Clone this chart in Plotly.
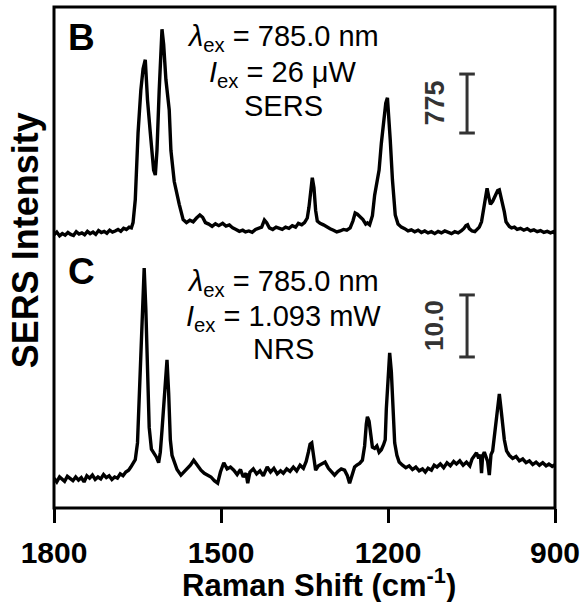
import plotly.graph_objects as go

# ---------------- data ----------------
# Spectrum B (SERS), Raman shift (cm-1) vs intensity (counts)
B_SPECTRUM = [
    (1800, 200), (1795, 235), (1790, 185), (1785, 215), (1780, 195), (1775, 230), (1770, 205),
    (1765, 190), (1760, 240), (1755, 210), (1750, 225), (1745, 200), (1740, 245), (1735, 215),
    (1730, 235), (1725, 205), (1720, 255), (1715, 230), (1710, 245), (1705, 220), (1700, 260),
    (1695, 235), (1690, 250), (1685, 270), (1680, 245), (1675, 285), (1670, 270), (1665, 300),
    (1661, 290), (1658, 360), (1654, 660), (1649, 1540), (1644, 2100), (1640, 2380),
    (1636, 2500), (1632, 1970), (1627, 1540), (1621, 1050), (1618, 985), (1615, 1310),
    (1611, 2100), (1608, 2690), (1606, 2900), (1603, 2700), (1599, 2240), (1593, 1840),
    (1590, 1310), (1584, 900), (1579, 700), (1575, 600), (1568, 400), (1562, 360), (1556, 390),
    (1550, 370), (1544, 420), (1538, 460), (1533, 430), (1528, 360), (1522, 340), (1516, 310),
    (1510, 345), (1504, 320), (1497, 350), (1491, 315), (1485, 330), (1479, 290), (1473, 270),
    (1467, 245), (1461, 260), (1456, 237), (1450, 250), (1444, 232), (1438, 270), (1432, 285),
    (1427, 300), (1422, 394), (1418, 360), (1413, 290), (1407, 270), (1401, 300), (1396, 285),
    (1390, 270), (1384, 300), (1378, 285), (1372, 320), (1366, 300), (1361, 350), (1355, 330),
    (1350, 360), (1345, 420), (1342, 560), (1339, 780), (1336, 950), (1333, 820), (1330, 520),
    (1327, 380), (1322, 350), (1316, 330), (1310, 300), (1304, 280), (1298, 260), (1292, 237),
    (1286, 250), (1280, 270), (1274, 260), (1268, 289), (1263, 380), (1259, 486), (1255, 470),
    (1250, 440), (1245, 400), (1240, 340), (1237, 355), (1233, 330), (1228, 450), (1224, 720),
    (1220, 880), (1216, 1050), (1212, 1400), (1208, 1710), (1204, 1930), (1201, 2000),
    (1198, 1700), (1196, 1450), (1192, 920), (1187, 460), (1182, 340), (1176, 300), (1170, 280),
    (1164, 250), (1158, 265), (1152, 240), (1146, 260), (1140, 230), (1134, 250), (1128, 225),
    (1122, 240), (1116, 215), (1110, 245), (1104, 225), (1098, 250), (1092, 230), (1086, 215),
    (1080, 240), (1074, 225), (1068, 255), (1064, 280), (1060, 320), (1057, 330), (1054, 280),
    (1049, 250), (1044, 240), (1040, 265), (1036, 300), (1032, 370), (1028, 560), (1024, 760),
    (1022, 810), (1019, 700), (1016, 600), (1012, 640), (1007, 720), (1003, 780), (1000, 790),
    (997, 700), (995, 660), (991, 500), (988, 370), (982, 310), (978, 290), (973, 300),
    (968, 270), (962, 285), (956, 260), (950, 280), (944, 250), (938, 265), (932, 240),
    (926, 255), (920, 230), (914, 245), (908, 225), (903, 240), (900, 220),
]

# Spectrum C (NRS), Raman shift (cm-1) vs intensity (counts)
C_SPECTRUM = [
    (1800, 4.8), (1795, 4.2), (1790, 5.0), (1786, 4.6), (1781, 4.3), (1776, 5.1), (1771, 4.7),
    (1766, 4.4), (1761, 5.0), (1756, 4.5), (1751, 4.9), (1746, 4.2), (1741, 5.2), (1736, 4.8),
    (1731, 5.3), (1726, 4.6), (1721, 5.0), (1716, 4.7), (1711, 5.4), (1706, 4.9), (1701, 5.2),
    (1696, 4.6), (1691, 5.0), (1686, 4.8), (1681, 5.5), (1676, 5.2), (1671, 5.8), (1666, 6.1),
    (1662, 6.6), (1658, 7.2), (1654, 7.8), (1650, 10.5), (1647, 17.4), (1644, 26.0),
    (1641, 33.5), (1638, 38.7), (1635, 32.0), (1632, 22.0), (1629, 13.0), (1625, 9.5),
    (1620, 8.9), (1616, 8.2), (1612, 7.3), (1609, 9.0), (1606, 12.5), (1603, 17.0),
    (1600, 21.5), (1597, 23.9), (1594, 18.5), (1591, 11.0), (1588, 8.5), (1584, 7.3),
    (1579, 6.2), (1572, 5.3), (1566, 5.8), (1560, 6.4), (1555, 6.9), (1549, 7.7), (1544, 7.0),
    (1539, 6.4), (1536, 6.1), (1530, 5.6), (1524, 5.3), (1518, 5.0), (1512, 4.4), (1506, 4.0),
    (1501, 5.8), (1495, 7.3), (1489, 6.3), (1483, 6.6), (1477, 6.1), (1471, 5.4), (1465, 6.2),
    (1460, 5.0), (1455, 5.6), (1452, 4.0), (1448, 5.8), (1442, 6.3), (1436, 5.5), (1430, 6.0),
    (1424, 5.2), (1417, 6.6), (1411, 5.8), (1405, 6.4), (1399, 5.5), (1393, 6.0), (1388, 5.6),
    (1382, 6.3), (1376, 5.9), (1370, 6.6), (1364, 6.0), (1358, 6.9), (1352, 6.4), (1347, 7.5),
    (1343, 9.0), (1340, 10.3), (1337, 10.5), (1334, 8.8), (1330, 6.1), (1325, 6.8),
    (1318, 7.2), (1313, 7.4), (1307, 6.4), (1301, 5.9), (1296, 5.3), (1290, 5.9), (1284, 6.3),
    (1278, 6.1), (1273, 5.2), (1269, 4.0), (1265, 5.4), (1260, 6.6), (1256, 6.9), (1251, 7.2),
    (1246, 7.7), (1242, 10.0), (1239, 13.5), (1237, 14.7), (1234, 14.0), (1231, 12.0),
    (1228, 9.8), (1224, 9.6), (1220, 10.0), (1216, 9.0), (1212, 9.4), (1208, 10.2),
    (1205, 11.0), (1203, 16.0), (1200, 22.0), (1197, 25.0), (1194, 22.0), (1191, 15.0),
    (1188, 10.5), (1184, 8.5), (1180, 7.4), (1174, 6.9), (1168, 6.5), (1162, 6.8), (1156, 6.2),
    (1150, 6.6), (1144, 6.0), (1138, 6.3), (1133, 5.8), (1128, 6.4), (1122, 6.1), (1117, 6.9),
    (1112, 6.6), (1106, 7.1), (1100, 6.5), (1094, 7.3), (1088, 6.8), (1082, 7.5), (1077, 7.1),
    (1071, 7.6), (1065, 6.9), (1059, 7.4), (1053, 6.8), (1049, 7.9), (1045, 8.5), (1041, 8.9),
    (1037, 8.0), (1034, 8.6), (1032, 5.6), (1030, 8.4), (1027, 9.0), (1024, 8.2), (1021, 7.5),
    (1018, 5.3), (1015, 8.6), (1012, 9.2), (1009, 11.5), (1006, 14.0), (1003, 16.5),
    (1000, 18.4), (997, 16.0), (994, 13.0), (991, 11.0), (987, 9.2), (982, 8.5), (976, 8.0),
    (970, 8.3), (964, 7.6), (958, 7.9), (952, 7.3), (946, 7.6), (940, 7.0), (934, 7.4),
    (928, 6.9), (922, 7.3), (916, 6.8), (911, 7.1), (905, 6.7), (900, 7.0),
]

X_TICKS = [1800, 1500, 1200, 900]
X_TICK_LABELS = ["1800", "1500", "1200", "900"]

SCALE_B = 775      # intensity scale bar, panel B
SCALE_C = 10.0     # intensity scale bar, panel C
SCALE_X = 1058     # Raman shift where the scale bars sit
SCALE_B_BOTTOM = 1537
SCALE_C_BOTTOM = 24.35

PANEL_B_TEXT = ["<i>λ</i><sub>ex</sub> = 785.0 nm", "<i>I</i><sub>ex</sub> = 26 μW", "SERS"]
PANEL_C_TEXT = ["<i>λ</i><sub>ex</sub> = 785.0 nm", "<i>I</i><sub>ex</sub> = 1.093 mW", "NRS"]

# ---------------- figure ----------------
FONT = "Liberation Sans, Arial, sans-serif"
bx = [p[0] for p in B_SPECTRUM]
by = [p[1] for p in B_SPECTRUM]
cx = [p[0] for p in C_SPECTRUM]
cy = [p[1] for p in C_SPECTRUM]

fig = go.Figure()
fig.add_trace(go.Scatter(x=bx, y=by, mode="lines", xaxis="x", yaxis="y",
                         line=dict(color="black", width=3.4), showlegend=False, hoverinfo="skip"))
fig.add_trace(go.Scatter(x=cx, y=cy, mode="lines", xaxis="x", yaxis="y2",
                         line=dict(color="black", width=3.4), showlegend=False, hoverinfo="skip"))

split = 0.515
fig.update_layout(
    width=587, height=602,
    margin=dict(l=54, r=28, t=7, b=94),
    paper_bgcolor="white", plot_bgcolor="white",
    font=dict(family=FONT, color="black"),
    xaxis=dict(range=[1800, 900], anchor="y2", tickmode="array", tickvals=X_TICKS,
               ticktext=X_TICK_LABELS, ticks="outside", ticklen=14, tickwidth=3,
               tickcolor="black", showgrid=False, zeroline=False, showline=False,
               tickfont=dict(family=FONT, size=30, color="black", weight="bold"),
               ticklabelstandoff=4),
    yaxis=dict(domain=[split, 1], range=[0, 3193], visible=False, showgrid=False),
    yaxis2=dict(domain=[0, split], range=[0, 41.6], visible=False, showgrid=False),
)

shapes = [dict(type="rect", xref="paper", yref="paper", x0=0, x1=1, y0=0, y1=1,
               line=dict(color="black", width=3), fillcolor="rgba(0,0,0,0)")]
bar_col = "#333333"
for yref, bottom, size in [("y", SCALE_B_BOTTOM, SCALE_B), ("y2", SCALE_C_BOTTOM, SCALE_C)]:
    shapes.append(dict(type="line", xref="x", yref=yref, x0=SCALE_X, x1=SCALE_X,
                       y0=bottom, y1=bottom + size, line=dict(color=bar_col, width=3)))
    for yy in (bottom, bottom + size):
        shapes.append(dict(type="line", xref="x", yref=yref, x0=SCALE_X + 14, x1=SCALE_X - 14,
                           y0=yy, y1=yy, line=dict(color=bar_col, width=3)))
fig.update_layout(shapes=shapes)

ann = []
def add(**kw):
    base = dict(showarrow=False, xanchor="center", yanchor="middle")
    base.update(kw)
    ann.append(base)

# scale labels
add(xref="x", yref="y", x=SCALE_X, y=SCALE_B_BOTTOM + SCALE_B / 2, xshift=-33,
    text="<b>775</b>", textangle=-90, font=dict(family=FONT, size=27, color=bar_col))
add(xref="x", yref="y2", x=SCALE_X, y=SCALE_C_BOTTOM + SCALE_C / 2, xshift=-33,
    text="<b>10.0</b>", textangle=-90, font=dict(family=FONT, size=26, color=bar_col))
# panel letters
add(xref="paper", yref="paper", x=0.055, y=0.940, text="<b>B</b>", font=dict(family=FONT, size=37))
add(xref="paper", yref="paper", x=0.055, y=0.473, text="<b>C</b>", font=dict(family=FONT, size=37))
# panel text
for txt, yp in zip(PANEL_B_TEXT, [0.938, 0.866, 0.802]):
    add(xref="paper", yref="paper", x=0.458, y=yp, text=txt, font=dict(family=FONT, size=29))
for txt, yp in zip(PANEL_C_TEXT, [0.450, 0.380, 0.317]):
    add(xref="paper", yref="paper", x=0.458, y=yp, text=txt, font=dict(family=FONT, size=29))
# axis titles
add(xref="paper", yref="paper", x=0.529, y=-0.150,
    text="<b>Raman Shift (cm<sup>-1</sup>)</b>", font=dict(family=FONT, size=31))
add(xref="paper", yref="paper", x=-0.0554, y=0.535, textangle=-90,
    text="<b>SERS Intensity</b>", font=dict(family=FONT, size=36))
fig.update_layout(annotations=ann)

fig.write_html("out.html")
